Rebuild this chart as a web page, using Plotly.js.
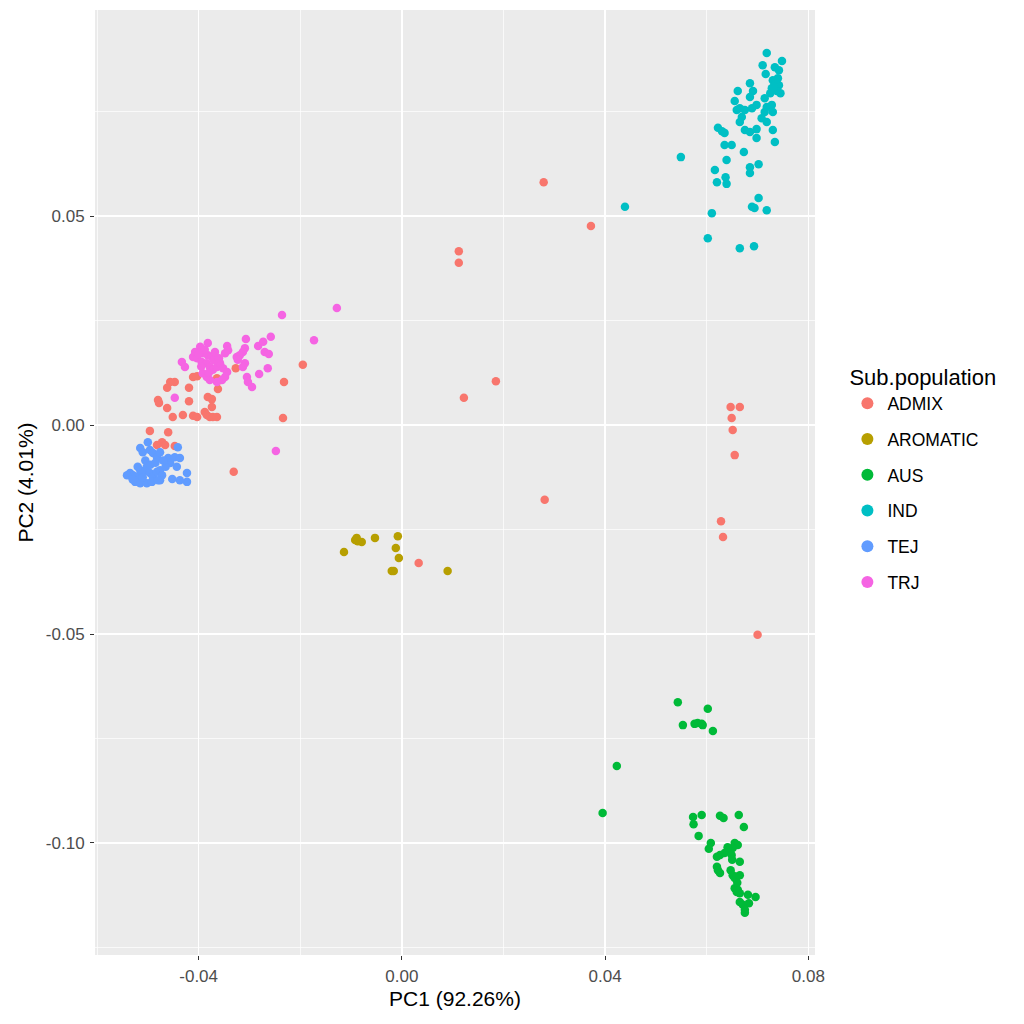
<!DOCTYPE html>
<html><head><meta charset="utf-8">
<script src="https://cdn.plot.ly/plotly-3.0.1.min.js"></script>
<style>body{margin:0;background:#fff}#plot{width:1024px;height:1024px}</style>
</head><body><div id="plot"></div>
<script>
const groups = ["ADMIX","AROMATIC","AUS","IND","TEJ","TRJ"];
const colors = ["#F8766D","#B79F00","#00BA38","#00BFC4","#619CFF","#F564E3"];

const admixX = [-0.0195,-0.0232,-0.0234,-0.0331,-0.0327,-0.0362,-0.0382,-0.0374,-0.0374,-0.0388,-0.0384,-0.0378,-0.0372,-0.0364,-0.0411,-0.0403,-0.0431,-0.0451,-0.0419,-0.0419,-0.0447,-0.0456,-0.0462,-0.0480,-0.0478,-0.0462,-0.0411,-0.0403,-0.0358,-0.0364,-0.0496,-0.0460,-0.0472,-0.0466,-0.0482,-0.0447,
  0.0279,0.0372,0.0112,0.0112,0.0185,0.0122,0.0281,0.0033,0.0647,0.0665,0.0649,0.0651,0.0655,0.0628,0.0632,0.0700];
const admixY = [0.0144,0.0103,0.0017,-0.0112,0.0136,0.0086,0.0067,0.0062,0.0043,0.0031,0.0024,0.0019,0.0019,0.0019,0.0022,0.0019,0.0024,0.0019,0.0089,0.0057,0.0103,0.0103,0.0089,0.0060,0.0053,0.0041,0.0115,0.0117,0.0108,0.0112,-0.0014,-0.0017,-0.0041,-0.0048,-0.0048,-0.0050,
  0.0581,0.0476,0.0416,0.0388,0.0105,0.0065,-0.0179,-0.0330,0.0043,0.0043,0.0017,-0.0012,-0.0072,-0.0230,-0.0268,-0.0502];

const aromaticX = [-0.0092,-0.0087,-0.0079,-0.0089,-0.0053,-0.0008,-0.0114,-0.0012,-0.0006,-0.0020,-0.0016,0.0090];
const aromaticY = [-0.0275,-0.0278,-0.0280,-0.0270,-0.0270,-0.0266,-0.0304,-0.0294,-0.0318,-0.0349,-0.0349,-0.0349];

const ausX = [0.0543,0.0602,0.0553,0.0576,0.0582,0.0590,0.0592,0.0612,0.0423,0.0395,0.0573,0.0590,0.0574,0.0626,0.0633,0.0663,0.0673,0.0584,0.0608,0.0604,0.0655,0.0661,0.0651,0.0645,0.0635,0.0626,0.0620,0.0649,0.0665,0.0620,0.0622,0.0626,0.0647,0.0651,0.0655,0.0659,0.0665,0.0655,0.0661,0.0665,0.0659,0.0681,0.0696,0.0683,0.0665,0.0671,0.0675,0.0675,0.0641,0.0650,0.0660];
const ausY = [-0.0663,-0.0679,-0.0718,-0.0715,-0.0713,-0.0715,-0.0718,-0.0732,-0.0816,-0.0928,-0.0938,-0.0933,-0.0955,-0.0935,-0.0940,-0.0933,-0.0962,-0.0983,-0.1000,-0.1014,-0.1000,-0.1005,-0.1012,-0.1017,-0.1024,-0.1029,-0.1033,-0.1029,-0.1045,-0.1057,-0.1065,-0.1072,-0.1065,-0.1077,-0.1084,-0.1081,-0.1077,-0.1108,-0.1112,-0.1120,-0.1117,-0.1124,-0.1129,-0.1144,-0.1141,-0.1148,-0.1160,-0.1167,-0.1010,-0.1040,-0.1095];

const indX = [0.0718,0.0748,0.0710,0.0734,0.0742,0.0716,0.0730,0.0736,0.0742,0.0728,0.0738,0.0745,0.0725,0.0740,0.0732,0.0685,0.0661,0.0691,0.0685,0.0655,0.0714,0.0665,0.0675,0.0659,0.0689,0.0698,0.0718,0.0728,0.0730,0.0714,0.0669,0.0665,0.0708,0.0718,0.0675,0.0685,0.0698,0.0698,0.0730,0.0734,0.0622,0.0630,0.0635,0.0635,0.0649,0.0673,0.0639,0.0685,0.0702,0.0685,0.0616,0.0620,0.0637,0.0639,0.0689,0.0694,0.0702,0.0718,0.0610,0.0602,0.0665,0.0693,0.0549,0.0439];
const indY = [0.0890,0.0871,0.0861,0.0856,0.0849,0.0840,0.0825,0.0818,0.0813,0.0806,0.0799,0.0794,0.0794,0.0830,0.0810,0.0818,0.0799,0.0799,0.0785,0.0775,0.0782,0.0758,0.0754,0.0754,0.0758,0.0766,0.0761,0.0766,0.0749,0.0749,0.0737,0.0725,0.0734,0.0725,0.0706,0.0701,0.0708,0.0687,0.0706,0.0677,0.0711,0.0703,0.0699,0.0670,0.0670,0.0653,0.0634,0.0617,0.0624,0.0603,0.0610,0.0581,0.0593,0.0577,0.0522,0.0519,0.0543,0.0514,0.0507,0.0447,0.0423,0.0428,0.0641,0.0522];

const tejX = [-0.0500,-0.0515,-0.0510,-0.0496,-0.0490,-0.0482,-0.0476,-0.0441,-0.0460,-0.0447,-0.0437,-0.0456,-0.0443,-0.0535,-0.0529,-0.0521,-0.0541,-0.0515,-0.0510,-0.0502,-0.0496,-0.0490,-0.0482,-0.0476,-0.0472,-0.0476,-0.0525,-0.0515,-0.0502,-0.0492,-0.0480,-0.0423,-0.0423,-0.0437,-0.0452,-0.0505,-0.0495,-0.0520,-0.0485,-0.0465,-0.0530,-0.0510,-0.0470];
const tejY = [-0.0041,-0.0055,-0.0065,-0.0060,-0.0067,-0.0077,-0.0065,-0.0053,-0.0079,-0.0077,-0.0079,-0.0091,-0.0100,-0.0115,-0.0120,-0.0124,-0.0120,-0.0108,-0.0112,-0.0100,-0.0115,-0.0124,-0.0112,-0.0108,-0.0120,-0.0132,-0.0136,-0.0139,-0.0139,-0.0136,-0.0132,-0.0115,-0.0136,-0.0132,-0.0129,-0.0085,-0.0095,-0.0100,-0.0090,-0.0100,-0.0130,-0.0125,-0.0085];

const trjX = [-0.0236,-0.0258,-0.0307,-0.0283,-0.0273,-0.0270,-0.0262,-0.0309,-0.0313,-0.0319,-0.0325,-0.0323,-0.0344,-0.0342,-0.0348,-0.0309,-0.0313,-0.0264,-0.0281,-0.0305,-0.0303,-0.0295,-0.0382,-0.0397,-0.0407,-0.0411,-0.0403,-0.0392,-0.0382,-0.0374,-0.0368,-0.0394,-0.0384,-0.0378,-0.0372,-0.0364,-0.0358,-0.0352,-0.0344,-0.0348,-0.0354,-0.0364,-0.0378,-0.0384,-0.0392,-0.0388,-0.0400,-0.0370,-0.0360,-0.0395,-0.0380,-0.0433,-0.0427,-0.0447,-0.0248,-0.0173,-0.0128];
const trjY = [0.0263,0.0211,0.0206,0.0189,0.0199,0.0175,0.0170,0.0184,0.0175,0.0167,0.0163,0.0156,0.0189,0.0179,0.0172,0.0148,0.0139,0.0136,0.0122,0.0115,0.0103,0.0091,0.0196,0.0187,0.0175,0.0163,0.0160,0.0172,0.0167,0.0163,0.0175,0.0151,0.0148,0.0139,0.0132,0.0139,0.0148,0.0136,0.0127,0.0115,0.0108,0.0103,0.0108,0.0115,0.0124,0.0180,0.0170,0.0155,0.0160,0.0140,0.0125,0.0151,0.0139,0.0065,-0.0062,0.0203,0.0280];

const xTickVals = [-0.04,0.00,0.04,0.08];
const xTickText = ["-0.04","0.00","0.04","0.08"];
const yTickVals = [-0.10,-0.05,0.00,0.05];
const yTickText = ["-0.10","-0.05","0.00","0.05"];

const xs = [admixX,aromaticX,ausX,indX,tejX,trjX];
const ys = [admixY,aromaticY,ausY,indY,tejY,trjY];

const traces = groups.map((g,i)=>({
  type:'scatter', mode:'markers', name:g, x:xs[i], y:ys[i],
  legendgroup:g,
  marker:{color:colors[i], size:8.5, line:{width:0}}
}));

const FONT = 'Liberation Sans, Arial, sans-serif';
const axisCommon = {
  showgrid:true, gridcolor:'#FFFFFF', gridwidth:1.6, zeroline:false,
  showline:false, ticks:'outside', ticklen:4, tickcolor:'#333333', tickwidth:1,
  ticklabelstandoff:2,
  tickfont:{family:FONT, size:17, color:'#4D4D4D'},
  tickmode:'array'
};

const layout = {
  width:1024, height:1024,
  margin:{l:95, r:209, t:10, b:69},
  paper_bgcolor:'#FFFFFF', plot_bgcolor:'#EBEBEB',
  font:{family:FONT, color:'#000000'},
  xaxis:Object.assign({}, axisCommon, {
    range:[-0.0604,0.0813], tickvals:xTickVals, ticktext:xTickText,
    minor:{tickmode:'linear', tick0:0, dtick:0.02, showgrid:true, gridcolor:'#FFFFFF', gridwidth:0.7, ticks:''},
    title:{text:'PC1 (92.26%)', font:{size:21, color:'#000000'}, standoff:5}
  }),
  yaxis:Object.assign({}, axisCommon, {
    range:[-0.1268,0.0993], tickvals:yTickVals, ticktext:yTickText,
    minor:{tickmode:'linear', tick0:0, dtick:0.025, showgrid:true, gridcolor:'#FFFFFF', gridwidth:0.7, ticks:''},
    title:{text:'PC2 (4.01%)', font:{size:21, color:'#000000'}, standoff:6}
  }),
  showlegend:true,
  legend:{
    x:1.045, xanchor:'left', y:0.633, yanchor:'top',
    title:{text:'Sub.population', font:{size:22, color:'#000000'}},
    font:{size:17.5, color:'#000000'},
    tracegroupgap:10, itemsizing:'constant', bgcolor:'rgba(0,0,0,0)'
  }
};

Plotly.newPlot('plot', traces, layout, {displayModeBar:false, staticPlot:true});
</script></body></html>
